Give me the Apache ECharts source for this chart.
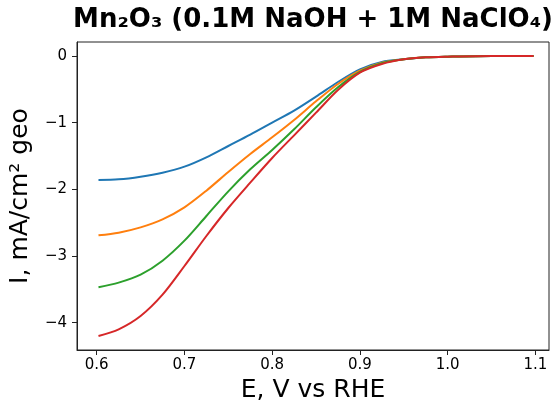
<!DOCTYPE html>
<html>
<head>
<meta charset="utf-8">
<script src="https://cdn.jsdelivr.net/npm/echarts@6/dist/echarts.min.js"></script>
<style>html,body{margin:0;padding:0;background:#fff}#c{width:553px;height:408px}</style>
</head>
<body>
<div id="c"></div>
<script>
const potential = [0.602, 0.625, 0.65, 0.675, 0.70, 0.725, 0.75, 0.775, 0.80, 0.825, 0.85, 0.875, 0.90, 0.925, 0.95, 0.975, 1.0, 1.05, 1.098];
const blue   = [-1.86, -1.85, -1.81, -1.75, -1.66, -1.52, -1.35, -1.18, -1.00, -0.82, -0.61, -0.39, -0.20, -0.09, -0.05, -0.02, -0.01, 0, 0];
const orange = [-2.69, -2.65, -2.57, -2.45, -2.27, -2.02, -1.74, -1.47, -1.22, -0.96, -0.68, -0.42, -0.22, -0.10, -0.05, -0.02, -0.01, 0, 0];
const green  = [-3.47, -3.40, -3.28, -3.07, -2.77, -2.40, -2.03, -1.70, -1.41, -1.10, -0.77, -0.47, -0.24, -0.11, -0.05, -0.02, -0.01, 0, 0];
const red    = [-4.20, -4.10, -3.90, -3.58, -3.15, -2.70, -2.28, -1.90, -1.53, -1.19, -0.85, -0.51, -0.25, -0.12, -0.05, -0.02, -0.01, 0, 0];
const xTicks = [0.6, 0.7, 0.8, 0.9, 1.0, 1.1];
const yTicks = [-4, -3, -2, -1, 0];
const seriesNames = ['blue', 'orange', 'green', 'red'];
const seriesValues = [blue, orange, green, red];
const colors = ['#1f77b4', '#ff7f0e', '#2ca02c', '#d62728'];

const font = 'DejaVu Sans';
const chart = echarts.init(document.getElementById('c'), null, {renderer: 'canvas'});
chart.setOption({
  animation: false,
  backgroundColor: '#fff',
  title: {
    text: 'Mn₂O₃ (0.1M NaOH + 1M NaClO₄)',
    left: 313, top: 7, textAlign: 'center', padding: 0,
    textStyle: {fontFamily: font, fontWeight: 'bold', fontSize: 26, color: '#000'}
  },
  grid: {left: 77, right: 4, top: 42, bottom: 57, show: true, borderColor: '#222', borderWidth: 1, backgroundColor: 'transparent'},
  xAxis: {
    type: 'value', min: 0.5775, max: 1.1156,
    name: 'E, V vs RHE', nameLocation: 'middle', nameGap: 28,
    nameTextStyle: {fontFamily: font, fontSize: 25, color: '#000'},
    axisLine: {show: true, onZero: false, lineStyle: {color: '#222', width: 1}},
    axisTick: {show: true, length: 5, customValues: xTicks, lineStyle: {color: '#222'}},
    axisLabel: {customValues: xTicks, margin: 8, fontFamily: font, fontSize: 15, color: '#000', formatter: v => v.toFixed(1)},
    splitLine: {show: false}
  },
  yAxis: {
    type: 'value', min: -4.41, max: 0.21,
    name: 'I, mA/cm² geo', nameLocation: 'middle', nameGap: 44, nameRotate: 90,
    nameTextStyle: {fontFamily: font, fontSize: 25, color: '#000'},
    axisLine: {show: true, onZero: false, lineStyle: {color: '#222', width: 1}},
    axisTick: {show: true, length: 5, customValues: yTicks, lineStyle: {color: '#222'}},
    axisLabel: {customValues: yTicks, margin: 10, fontFamily: font, fontSize: 15, color: '#000', formatter: v => String(Math.round(v)).replace('-', '\u2212')},
    splitLine: {show: false}
  },
  series: seriesValues.map((vals, i) => ({
    name: seriesNames[i], type: 'line', smooth: 0.3, showSymbol: false,
    data: potential.map((x, j) => [x, vals[j]]),
    lineStyle: {color: colors[i], width: 2}, itemStyle: {color: colors[i]}
  }))
});
</script>
</body>
</html>
